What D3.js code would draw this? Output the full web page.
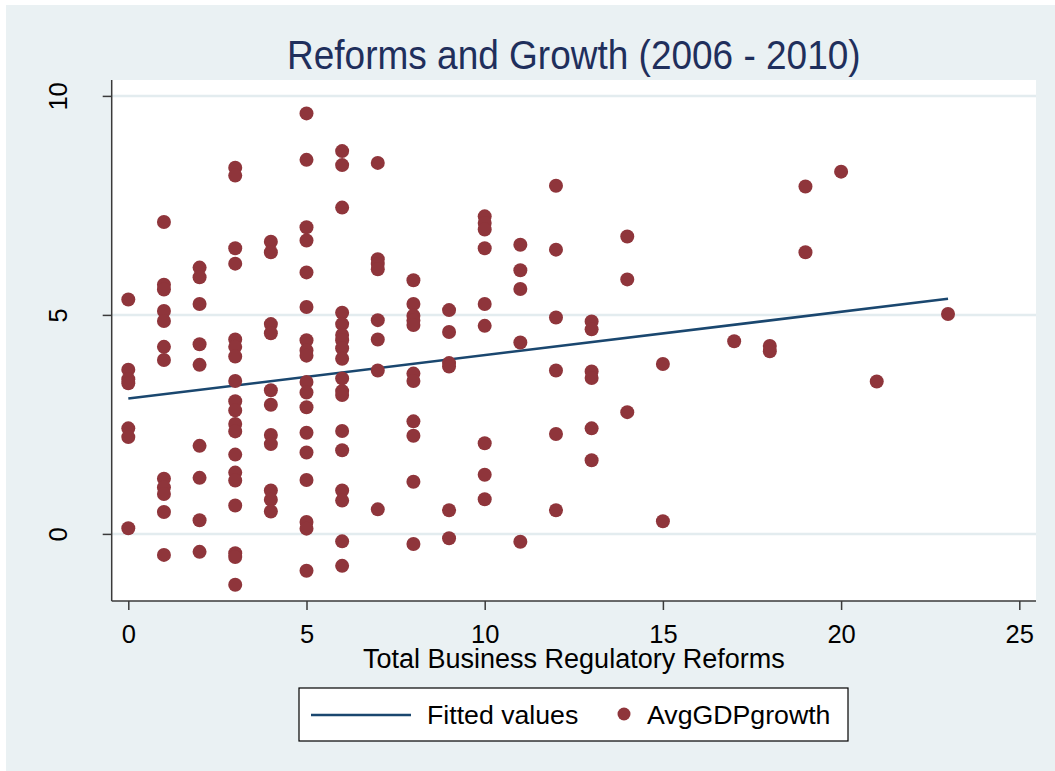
<!DOCTYPE html>
<html>
<head>
<meta charset="utf-8">
<script src="https://cdn.jsdelivr.net/npm/d3@7"></script>
<style>
  html, body { margin: 0; padding: 0; background: #fff; }
  svg { display: block; font-family: "Liberation Sans", Arial, Helvetica, sans-serif; }
</style>
</head>
<body>
<svg id="chart" width="1055" height="771"></svg>
<script>
// ── data ──────────────────────────────────────────────────────
// x: total business regulatory reforms, y: average GDP growth
const reforms = [
  0, 0, 0, 0, 0, 0, 0,
  1, 1, 1, 1, 1, 1, 1, 1, 1, 1, 1, 1,
  2, 2, 2, 2, 2, 2, 2, 2, 2,
  3, 3, 3, 3, 3, 3, 3, 3, 3, 3, 3, 3, 3, 3, 3, 3, 3, 3, 3,
  4, 4, 4, 4, 4, 4, 4, 4, 4, 4, 4,
  5, 5, 5, 5, 5, 5, 5, 5, 5, 5, 5, 5, 5, 5, 5, 5, 5, 5,
  6, 6, 6, 6, 6, 6, 6, 6, 6, 6, 6, 6, 6, 6, 6, 6, 6, 6,
  7, 7, 7, 7, 7, 7, 7, 7,
  8, 8, 8, 8, 8, 8, 8, 8, 8, 8, 8,
  9, 9, 9, 9, 9, 9,
  10, 10, 10, 10, 10, 10, 10, 10, 10,
  11, 11, 11, 11, 11,
  12, 12, 12, 12, 12, 12,
  13, 13, 13, 13, 13, 13,
  14, 14, 14,
  15, 15,
  17,
  18, 18,
  19, 19,
  20,
  21,
  23
];
const avgGDPgrowth = [
  5.35, 3.75, 3.53, 3.44, 2.41, 2.21, 0.13,
  7.12, 5.69, 5.58, 5.09, 4.86, 4.27, 3.97, 1.26, 1.06, 0.91, 0.50, -0.48,
  6.08, 5.86, 5.25, 4.33, 3.86, 2.01, 1.28, 0.31, -0.41,
  8.36, 8.18, 6.52, 6.17, 4.44, 4.27, 4.05, 3.49, 3.03, 2.82, 2.51, 2.34, 1.81, 1.40, 1.22, 0.65, -0.44, -0.53, -1.16,
  6.67, 6.43, 4.79, 4.58, 3.28, 2.95, 2.26, 2.05, 0.99, 0.78, 0.51,
  9.60, 8.54, 7.00, 6.70, 5.97, 5.18, 4.42, 4.19, 4.07, 3.47, 3.23, 2.89, 2.31, 1.86, 1.23, 0.27, 0.12, -0.84,
  8.74, 8.42, 7.45, 5.05, 4.79, 4.54, 4.42, 4.24, 4.00, 3.55, 3.26, 3.17, 2.35, 1.91, 0.99, 0.76, -0.17, -0.73,
  8.47, 6.27, 6.16, 6.04, 4.88, 4.44, 3.73, 0.56,
  5.79, 5.25, 4.98, 4.87, 4.77, 3.66, 3.49, 2.57, 2.24, 1.19, -0.23,
  5.11, 4.61, 3.90, 3.82, 0.54, -0.10,
  7.25, 7.10, 6.95, 6.52, 5.25, 4.75, 2.07, 1.35, 0.79,
  6.60, 6.02, 5.59, 4.37, -0.18,
  7.95, 6.49, 4.94, 3.73, 2.28, 0.54,
  4.85, 4.67, 3.71, 3.56, 2.41, 1.68,
  6.79, 5.81, 2.78,
  3.88, 0.29,
  4.40,
  4.29, 4.17,
  7.93, 6.43,
  8.27,
  3.48,
  5.02
];
// fitted values (linear fit), end points as drawn
const fitX = [0, 23];
const fitY = [3.09, 5.37];

const xTicks = [0, 5, 10, 15, 20, 25];
const yTicks = [0, 5, 10];

const TITLE = 'Reforms and Growth (2006 - 2010)';
const X_TITLE = 'Total Business Regulatory Reforms';
const LEGEND = ['Fitted values', 'AvgGDPgrowth'];

// ── layout / colours (Stata s2color look) ─────────────────────
const W = 1055, H = 771;
const BG = '#eaf1f3', GRID = '#e3ecef';
const MAROON = '#8f353b', NAVY = '#1a476f';
const plot = { left: 111.7, right: 1036, top: 80, bottom: 601 };
const midX = (plot.left + plot.right) / 2;

const svg = d3.select('#chart');

svg.append('rect').attr('x', 0).attr('y', 0).attr('width', W).attr('height', H).attr('fill', '#fff');
svg.append('rect').attr('x', 6).attr('y', 5).attr('width', W - 6).attr('height', H - 5).attr('fill', BG);
svg.append('rect')
  .attr('x', plot.left).attr('y', plot.top)
  .attr('width', plot.right - plot.left).attr('height', plot.bottom - plot.top)
  .attr('fill', '#fff');

const x = d3.scaleLinear().domain([0, 25]).range([128.3, 1019.3]);
const y = d3.scaleLinear().domain([0, 10]).range([533.9, 95.9]);

// grid lines
svg.append('g').selectAll('line').data(yTicks).enter().append('line')
  .attr('x1', plot.left).attr('x2', plot.right)
  .attr('y1', d => y(d)).attr('y2', d => y(d))
  .attr('stroke', GRID).attr('stroke-width', 2.5);

// axes
const xAxis = svg.append('g')
  .attr('transform', `translate(0,${plot.bottom})`)
  .call(d3.axisBottom(x).tickValues(xTicks).tickSize(9).tickSizeOuter(0));
xAxis.select('.domain').attr('d', `M${plot.left},0H${plot.right}`);
xAxis.selectAll('.tick text')
  .attr('y', 24).attr('dy', '0.71em')
  .attr('font-size', 25.5).attr('font-family', null).attr('fill', '#000');

const yAxis = svg.append('g')
  .attr('transform', `translate(${plot.left},0)`)
  .call(d3.axisLeft(y).tickValues(yTicks).tickSize(9).tickSizeOuter(0));
yAxis.select('.domain').attr('d', `M0,${plot.top}V${plot.bottom}`);
yAxis.selectAll('.tick text')
  .attr('transform', 'rotate(-90)')
  .attr('x', 0).attr('y', -45).attr('dy', 0)
  .attr('text-anchor', 'middle')
  .attr('font-size', 25.5).attr('font-family', null).attr('fill', '#000');

svg.selectAll('.domain, .tick line').attr('stroke', '#3a3a3a').attr('stroke-width', 1.5);

// fitted line, then scatter on top
const fitPts = fitX.map((v, i) => [v, fitY[i]]);
svg.append('path')
  .datum(fitPts)
  .attr('d', d3.line().x(d => x(d[0])).y(d => y(d[1])))
  .attr('fill', 'none').attr('stroke', NAVY).attr('stroke-width', 2.6);

svg.append('g').selectAll('circle').data(reforms).enter().append('circle')
  .attr('cx', d => x(d))
  .attr('cy', (d, i) => y(avgGDPgrowth[i]))
  .attr('r', 7)
  .attr('fill', MAROON);

// titles (Stata's title font runs a little taller than Liberation)
svg.append('text')
  .attr('transform', `translate(${midX},69) scale(1,1.09)`)
  .attr('text-anchor', 'middle').attr('font-size', 37).attr('fill', '#1f2f5c')
  .text(TITLE);
svg.append('text')
  .attr('x', midX).attr('y', 668)
  .attr('text-anchor', 'middle').attr('font-size', 27).attr('fill', '#000')
  .text(X_TITLE);

// legend
const lg = svg.append('g');
lg.append('rect').attr('x', 299).attr('y', 688).attr('width', 549).attr('height', 53)
  .attr('fill', '#fff').attr('stroke', '#000').attr('stroke-width', 1.2);
lg.append('line').attr('x1', 311).attr('x2', 411).attr('y1', 715).attr('y2', 715)
  .attr('stroke', NAVY).attr('stroke-width', 2.6);
lg.append('text').attr('x', 427).attr('y', 724).attr('font-size', 26.7).attr('fill', '#000').text(LEGEND[0]);
lg.append('circle').attr('cx', 624).attr('cy', 714).attr('r', 6.5).attr('fill', MAROON);
lg.append('text').attr('x', 647).attr('y', 724).attr('font-size', 26.7).attr('fill', '#000').text(LEGEND[1]);
</script>
</body>
</html>
